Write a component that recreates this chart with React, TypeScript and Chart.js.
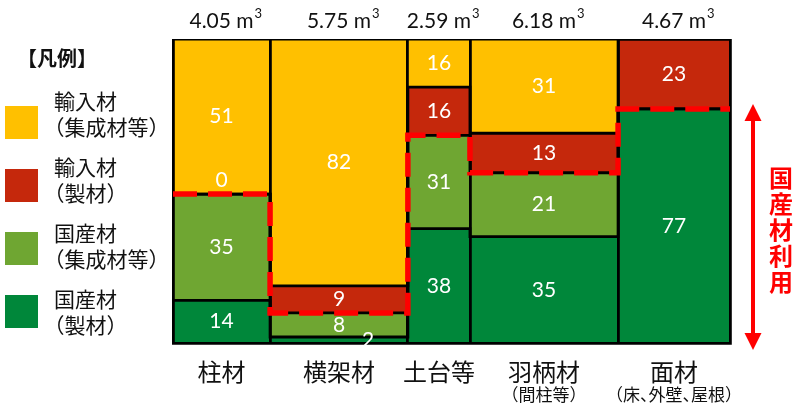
import React, { useEffect, useRef } from "react";
import { Chart, registerables } from "chart.js";

Chart.register(...registerables);

// ---- data ----
const categories = ["柱材", "横架材", "土台等", "羽柄材", "面材"];
const subCategories = ["", "", "", "（間柱等）", "（床、外壁、屋根）"];
const volumes = [4.05, 5.75, 2.59, 6.18, 4.67];
const volumeLabels = ["4.05", "5.75", "2.59", "6.18", "4.67"];
const domesticSawn = [14, 2, 38, 35, 77];
const domesticLaminated: (number | null)[] = [35, 8, 31, 21, null];
const importedSawn = [0, 9, 16, 13, 23];
const importedLaminated: (number | null)[] = [51, 82, 16, 31, null];
const legendItems = [
  ["輸入材", "（集成材等）"],
  ["輸入材", "（製材）"],
  ["国産材", "（集成材等）"],
  ["国産材", "（製材）"],
];
const legendTitle = "【凡例】";
const arrowText = "国産材利用";

// ---- styles ----
const layerColors = ["#00873A", "#6FA632", "#C5280C", "#FFC000"]; // bottom -> top
const legendColors = ["#FFC000", "#C5280C", "#6FA632", "#00873A"]; // top -> bottom
const CJK = "'Noto Sans CJK JP', 'Noto Sans CJK SC', sans-serif";
const NUM = "Lato, 'Open Sans', sans-serif";

// ---- derived ----
const layers: (number | null)[][] = [domesticSawn, domesticLaminated, importedSawn, importedLaminated];
const totals = volumes.map((_, i) => layers.reduce((s, l) => s + (l[i] ?? 0), 0));
const starts: number[] = [];
volumes.reduce((acc, v) => {
  starts.push(acc);
  return acc + v;
}, 0);
const totalVolume = volumes.reduce((a, b) => a + b, 0);
const boundaries = [...starts, totalVolume];
const cumTop: number[][] = layers.map((_, k) =>
  volumes.map((__, i) => {
    let s = 0;
    for (let j = 0; j <= k; j++) s += layers[j][i] ?? 0;
    return (s / totals[i]) * 100;
  })
);
const stepPoints = (vals: number[]) => [
  ...starts.map((x, i) => ({ x, y: vals[i] })),
  { x: totalVolume, y: vals[vals.length - 1] },
];

const NARROW_OPEN = "（【";
const NARROW_CLOSE = "）】、";
function drawCJK(ctx: CanvasRenderingContext2D, text: string, x: number, y: number, align: "left" | "center", size: number) {
  const chars = Array.from(text);
  const adv = chars.map((c) =>
    NARROW_OPEN.includes(c) || NARROW_CLOSE.includes(c) ? size * 0.5 : ctx.measureText(c).width
  );
  const total = adv.reduce((a, b) => a + b, 0);
  let cx = align === "center" ? x - total / 2 : x;
  ctx.textAlign = "left";
  chars.forEach((c, j) => {
    const dx = NARROW_OPEN.includes(c) ? -size * 0.5 : 0;
    ctx.fillText(c, cx + dx, y);
    cx += adv[j];
  });
}

const decorPlugin = {
  id: "decor",
  afterDraw(chart: any) {
    const ctx: CanvasRenderingContext2D = chart.ctx;
    const xs = chart.scales.x;
    const ys = chart.scales.y;
    ctx.save();
    ctx.textBaseline = "middle";

    // segment value labels
    ctx.fillStyle = "#FFFFFF";
    ctx.font = `21px ${NUM}`;
    ctx.textAlign = "center";
    layers.forEach((layer, k) => {
      layer.forEach((v, i) => {
        if (v === null || v === undefined) return;
        const low = k === 0 ? 0 : cumTop[k - 1][i];
        const high = cumTop[k][i];
        const yLow = ys.getPixelForValue(low);
        const yHigh = ys.getPixelForValue(high);
        let cy = (yLow + yHigh) / 2;
        let cx = xs.getPixelForValue(starts[i] + volumes[i] / 2);
        const h = yLow - yHigh;
        if (v === 0) cy -= 14;
        else if (h < 10) cx += 29; // tiny segment: shift label sideways
        ctx.fillText(String(v), cx, cy);
      });
    });

    // volume labels on top
    ctx.fillStyle = "#111";
    volumes.forEach((v, i) => {
      const cx = xs.getPixelForValue(starts[i] + v / 2);
      ctx.font = `21px ${NUM}`;
      ctx.textAlign = "center";
      const main = `${volumeLabels[i]} m`;
      ctx.fillText(main, cx, 21);
      const w = ctx.measureText(main).width;
      ctx.font = `13px ${NUM}`;
      ctx.textAlign = "left";
      ctx.fillText("3", cx + w / 2 + 1, 14);
    });

    // category labels
    categories.forEach((c, i) => {
      const cx = xs.getPixelForValue(starts[i] + volumes[i] / 2);
      ctx.font = `24px ${CJK}`;
      drawCJK(ctx, c, cx, 372, "center", 24);
      if (subCategories[i]) {
        ctx.font = `17px ${CJK}`;
        drawCJK(ctx, subCategories[i], cx, 395, "center", 17);
      }
    });

    // legend
    ctx.fillStyle = "#111";
    ctx.font = `bold 20px ${CJK}`;
    drawCJK(ctx, legendTitle, 27, 58, "left", 20);
    legendItems.forEach((item, r) => {
      const top = 106 + r * 63;
      ctx.fillStyle = legendColors[r];
      ctx.fillRect(5, top, 33, 33);
      ctx.fillStyle = "#111";
      ctx.font = `21px ${CJK}`;
      const ly = 101 + r * 66;
      drawCJK(ctx, item[0], 54, ly, "left", 21);
      drawCJK(ctx, item[1], 54, ly + 26, "left", 21);
    });

    // double arrow for domestic share of last column
    const ax = 753;
    const last = volumes.length - 1;
    const aTop = ys.getPixelForValue(cumTop[1][last]) - 5;
    const aBot = ys.getPixelForValue(0) + 7;
    const head = 17;
    const hw = 8.5;
    ctx.fillStyle = "#FF0000";
    ctx.strokeStyle = "#FF0000";
    ctx.lineWidth = 4;
    ctx.beginPath();
    ctx.moveTo(ax, aTop + head - 2);
    ctx.lineTo(ax, aBot - head + 2);
    ctx.stroke();
    ctx.beginPath();
    ctx.moveTo(ax, aTop);
    ctx.lineTo(ax - hw, aTop + head);
    ctx.lineTo(ax + hw, aTop + head);
    ctx.closePath();
    ctx.fill();
    ctx.beginPath();
    ctx.moveTo(ax, aBot);
    ctx.lineTo(ax - hw, aBot - head);
    ctx.lineTo(ax + hw, aBot - head);
    ctx.closePath();
    ctx.fill();

    // vertical text
    ctx.font = `bold 24px ${CJK}`;
    ctx.textAlign = "center";
    const mid = (aTop + aBot) / 2 + 3;
    Array.from(arrowText).forEach((c, j) => {
      ctx.fillText(c, 781, mid + (j - 2) * 26);
    });

    ctx.restore();
  },
};

export default function App() {
  const ref = useRef<HTMLCanvasElement>(null);
  useEffect(() => {
    if (!ref.current) return;
    // index 0: red dashed boundary (domestic / imported), drawn on top
    const datasets: any[] = [
      {
        label: "border",
        data: stepPoints(cumTop[1]),
        stepped: true,
        borderColor: "#FF0000",
        borderWidth: 5.5,
        borderDash: [24, 11],
        fill: false,
        pointRadius: 0,
      },
    ];
    layers.forEach((_, k) => {
      datasets.push({
        label: `layer${k}`,
        data: stepPoints(cumTop[k]),
        stepped: true,
        borderColor: "#000000",
        borderWidth: 2.8,
        backgroundColor: layerColors[k],
        fill: k === 0 ? "origin" : "-1",
        pointRadius: 0,
        tension: 0,
      });
    });
    const chart = new Chart(ref.current, {
      type: "line",
      data: { datasets },
      options: {
        animation: false,
        responsive: false,
        devicePixelRatio: 1,
        layout: { padding: { left: 173, right: 77, top: 39, bottom: 61 } },
        plugins: {
          legend: { display: false },
          tooltip: { enabled: false },
          filler: { propagate: false, drawTime: "beforeDraw" } as any,
        },
        scales: {
          x: {
            type: "linear",
            min: 0,
            max: totalVolume,
            afterBuildTicks: (scale: any) => {
              scale.ticks = boundaries.map((v) => ({ value: v }));
            },
            ticks: { display: false },
            grid: { color: "#000000", lineWidth: 2.8, drawTicks: false },
            border: { display: true, color: "#000000", width: 2.8 },
          },
          y: {
            type: "linear",
            min: 0,
            max: 100,
            display: false,
          },
        },
      },
      plugins: [decorPlugin],
    });
    return () => chart.destroy();
  }, []);
  return (
    <canvas
      ref={ref}
      width={807}
      height={404}
      style={{ position: "absolute", left: 0, top: 0, width: 807, height: 404 }}
    />
  );
}
